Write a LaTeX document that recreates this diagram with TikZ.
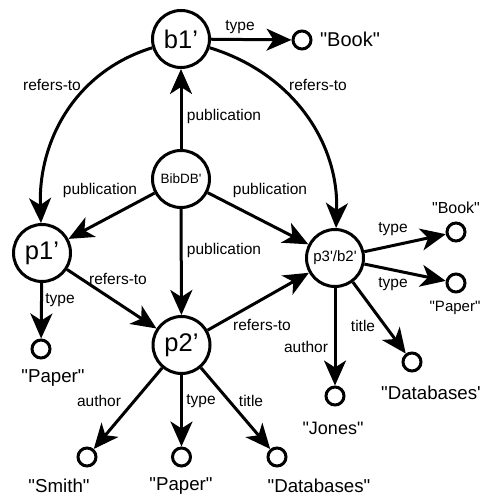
\documentclass[tikz,border=0pt]{standalone}
\usepackage{fontspec}
\newfontfamily\lsans{Liberation Sans}
\usetikzlibrary{arrows.meta}
\newcommand{\fsz}[1]{\lsans\fontsize{#1}{#1}\selectfont}
\begin{document}
\begin{tikzpicture}[x=1pt,y=1pt,
  big/.style={circle,draw,line width=3pt,minimum size=57pt,inner sep=0pt,font=\fsz{25.5}},
  lit/.style={circle,draw,line width=3pt,minimum size=18pt,inner sep=0pt},
  elab/.style={font=\fsz{15.5},inner sep=0pt},
  val/.style={font=\fsz{18.7},inner sep=0pt},
  edge/.style={line width=3pt,-{Stealth[length=25pt,width=22pt,inset=7pt]}}]
\useasboundingbox (0,0) rectangle (481,497);
% main nodes
\node[big] (b1) at (181,458) {b1’};
\node[big,font=\fsz{13.5}] (bib) at (181,318) {BibDB'};
\node[big] (p1) at (42,244) {p1’};
\node[big] (p2) at (181.5,152) {p2’};
\node[big,font=\fsz{15}] (p3) at (335,239) {p3'/b2'};
% literal nodes
\node[lit] (sA) at (302,457) {};
\node[lit] (sB) at (456,265) {};
\node[lit] (sC) at (456,214) {};
\node[lit] (sD) at (412,135) {};
\node[lit] (sE) at (335,101) {};
\node[lit] (sF) at (41,148) {};
\node[lit] (sG) at (87,40) {};
\node[lit] (sH) at (181.5,40) {};
\node[lit] (sI) at (277,40) {};
% values
\node[val,font=\fsz{20}] (tA) at (350,458) {"Book"};
\node[val,font=\fsz{16}] (tB) at (456,289) {"Book"};
\node[val,font=\fsz{15}] (tC) at (455,189) {"Paper"};
\node[val,anchor=west] (tD) at (381,104) {"Databases'};
\node[val,font=\fsz{18}] (tE) at (333,69) {"Jones"};
\node[val] (tF) at (53,119) {"Paper"};
\node[val] (tG) at (59,11) {"Smith"};
\node[val] (tH) at (181,11) {"Paper"};
\node[val] (tI) at (319,11) {"Databases"};
% edges
\draw[edge] (b1) -- (sA);
\draw[edge] (b1) to[out=197,in=92] (p1);
\draw[edge] (b1) to[out=-17,in=88] (p3);
\draw[edge] (bib) -- (b1);
\draw[edge] (bib) -- (p1);
\draw[edge] (bib) -- (p3);
\draw[edge] (bib) -- (p2);
\draw[edge] (p1) -- (p2);
\draw[edge] (p2) -- (p3);
\draw[edge] (p1) -- (sF);
\draw[edge] (p2) -- (sG);
\draw[edge] (p2) -- (sH);
\draw[edge] (p2) -- (sI);
\draw[edge] (p3) -- (sB);
\draw[edge] (p3) -- (sC);
\draw[edge] (p3) -- (sD);
\draw[edge] (p3) -- (sE);
% edge labels
\node[elab] (l1) at (240,470) {type};
\node[elab] (l2) at (52,412) {refers-to};
\node[elab] (l3) at (318,412) {refers-to};
\node[elab] (l4) at (224,380) {publication};
\node[elab] (l5) at (100,307) {publication};
\node[elab] (l6) at (270,307) {publication};
\node[elab] (l7) at (224,247) {publication};
\node[elab] (l8) at (118,218) {refers-to};
\node[elab] (l9) at (60,197) {type};
\node[elab] (l10) at (262,172) {refers-to};
\node[elab] (l11) at (393,268) {type};
\node[elab] (l12) at (393,213) {type};
\node[elab] (l13) at (363,171) {title};
\node[elab] (l14) at (306,150) {author};
\node[elab] (l15) at (99,96) {author};
\node[elab] (l16) at (201,96) {type};
\node[elab] (l17) at (251,96) {title};
\end{tikzpicture}
\end{document}
